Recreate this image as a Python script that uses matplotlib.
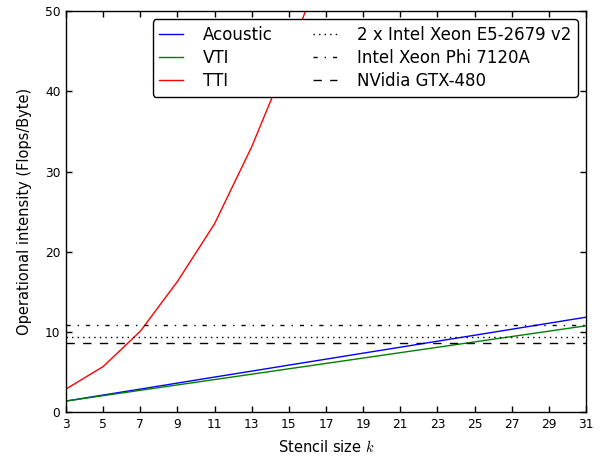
import matplotlib
matplotlib.use("Agg")
import matplotlib.pyplot as plt

# Stencil sizes and operational intensity (Flops/Byte) per kernel
stencil_k = [3, 5, 7, 9, 11, 13, 15, 17, 19, 21, 23, 25, 27, 29, 31]
acoustic = [1.40, 2.15, 2.89, 3.64, 4.39, 5.13, 5.88, 6.62, 7.37, 8.11, 8.86,
            9.60, 10.35, 11.10, 11.85]
vti = [1.40, 2.07, 2.74, 3.41, 4.08, 4.75, 5.42, 6.09, 6.76, 7.43, 8.10,
       8.77, 9.44, 10.11, 10.78]
tti_k = [3, 5, 7, 9, 11, 13, 15, 17]
tti = [2.9, 5.7, 10.1, 16.3, 23.5, 33.1, 44.3, 57.1]

# Machine balance of each architecture (Flops/Byte)
machines = ["2 x Intel Xeon E5-2679 v2", "Intel Xeon Phi 7120A", "NVidia GTX-480"]
machine_balance = [9.33, 10.9, 8.67]
machine_styles = [(0, (1, 3)), (0, (3, 5, 1, 5)), (0, (6, 6))]

plt.rcParams["mathtext.fontset"] = "cm"
plt.rcParams["font.family"] = "DejaVu Sans"

fig = plt.figure(figsize=(6.13, 4.62), dpi=100)
ax = fig.add_axes([0.1077, 0.1076, 0.8483, 0.8685])

ax.plot(stencil_k, acoustic, color="blue", lw=1, label="Acoustic")
ax.plot(stencil_k, vti, color="green", lw=1, label="VTI")
ax.plot(tti_k, tti, color="red", lw=1, label="TTI")
for name, bal, ls in zip(machines, machine_balance, machine_styles):
    ax.axhline(bal, color="black", lw=1, ls=ls, label=name)

ax.set_xlim(3, 31)
ax.set_ylim(0, 50)
ax.set_xticks(stencil_k)
ax.set_yticks([0, 10, 20, 30, 40, 50])
ax.tick_params(direction="in", top=True, right=True, length=4, width=1,
               labelsize=8.8, pad=4)
for s in ax.spines.values():
    s.set_linewidth(1)
ax.set_xlabel("Stencil size $k$", fontsize=10.5, labelpad=6)
ax.set_ylabel("Operational intensity (Flops/Byte)", fontsize=10.5, labelpad=9)

leg = ax.legend(ncol=2, loc="upper right", fontsize=12, fancybox=True,
                framealpha=1, borderaxespad=0.5, handlelength=1.45,
                handletextpad=1.15, columnspacing=2.45, labelspacing=0.3,
                borderpad=0.4)
leg.get_frame().set_edgecolor("black")

fig.savefig("out.png", dpi=100, facecolor="white")
